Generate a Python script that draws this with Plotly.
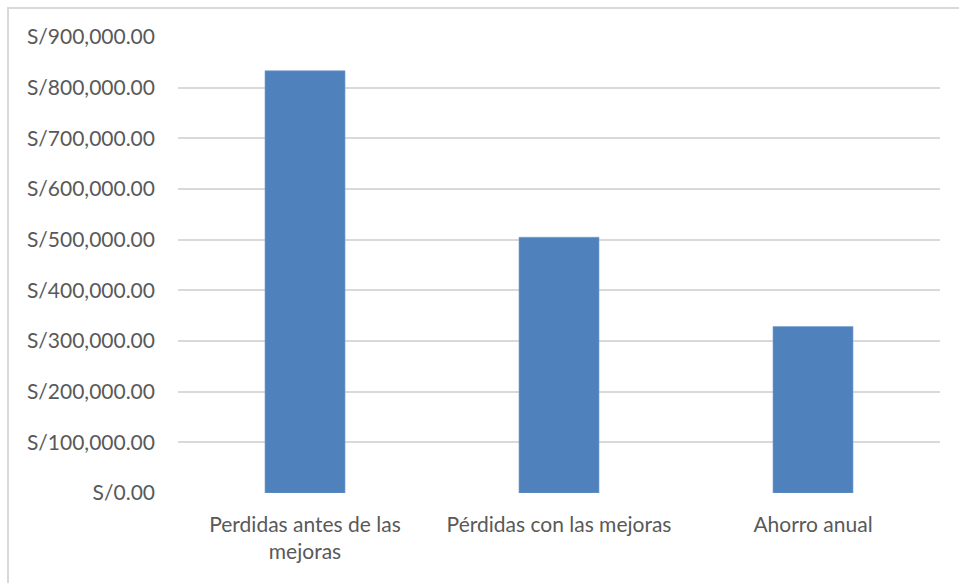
import plotly.graph_objects as go

# Annual losses before/after improvements and resulting savings (soles)
categories = ["Perdidas antes de las<br>mejoras", "Pérdidas con las mejoras", "Ahorro anual"]
values = [833400, 504800, 328600]
tick_values = [0, 100000, 200000, 300000, 400000, 500000, 600000, 700000, 800000, 900000]
tick_labels = ["S/{:,.2f}".format(v) for v in tick_values]

W, H = 959, 583
L, R, T, B = 178, 19, 37, 90

fig = go.Figure(
    go.Bar(
        x=categories,
        y=values,
        marker=dict(color="#4f81bd", line=dict(color="#7aa0d0", width=0.6)),
        hoverinfo="x+y",
    )
)

font = dict(family="Lato, 'Open Sans', sans-serif", size=21, color="#595959")

fig.update_layout(
    width=W,
    height=H,
    margin=dict(l=L, r=R, t=T, b=B, pad=0),
    paper_bgcolor="white",
    plot_bgcolor="white",
    bargap=0.685,
    showlegend=False,
    font=font,
    xaxis=dict(
        showgrid=False,
        showline=False,
        zeroline=False,
        ticks="",
        tickfont=font,
        ticklabelstandoff=17,
    ),
    yaxis=dict(
        range=[0, 900000],
        tickmode="array",
        tickvals=tick_values,
        ticktext=tick_labels,
        showgrid=True,
        gridcolor="#d9d9d9",
        gridwidth=1.6,
        zeroline=False,
        showline=False,
        ticks="",
        tickfont=font,
        ticklabelstandoff=22,
    ),
)

# Chart frame (top and left edges visible)
pw, ph = W - L - R, H - T - B
x0 = (8 - L) / pw
x1 = (W + 20 - L) / pw
y1 = (H - B - 8) / ph
y0 = (H - B - (H + 20)) / ph
fig.add_shape(
    type="rect", xref="paper", yref="paper",
    x0=x0, x1=x1, y0=y0, y1=y1,
    line=dict(color="#d9d9d9", width=2), layer="below",
)

fig.write_html("out.html")
